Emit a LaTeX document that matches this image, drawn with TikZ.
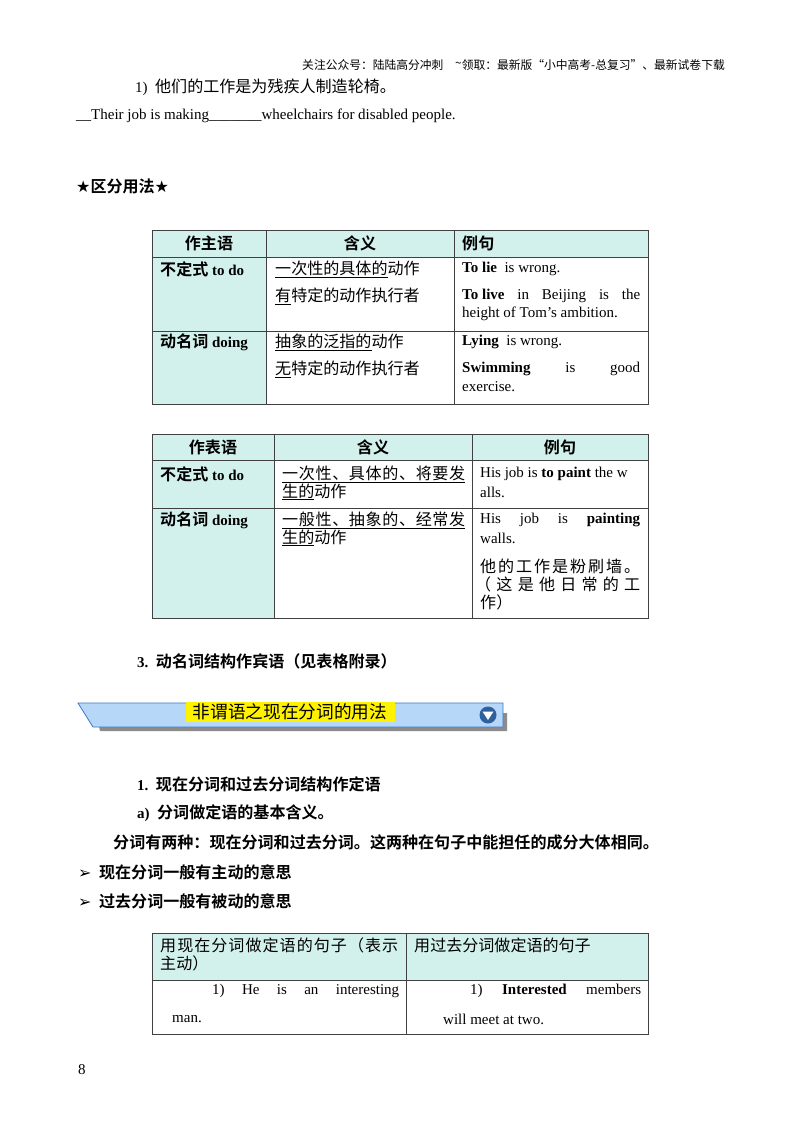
\documentclass[tikz,border=0pt]{standalone}
\usepackage{fontspec}
\setmainfont{Liberation Serif}
\newfontfamily\cjk[Scale=1.07,BoldFont={Noto Sans CJK SC Bold}]{Noto Sans CJK SC}
\newfontfamily\sym{DejaVu Sans}
\definecolor{teal1}{HTML}{D3F1EC}
\definecolor{bannerblue}{HTML}{B6D7F7}
\definecolor{bannerline}{HTML}{3A78C8}
\tikzset{
  txt/.style={anchor=west,inner sep=0pt,font=\fontsize{15}{18}\selectfont},
  grid/.style={draw=black!75,line width=0.8pt},
  head/.style={anchor=center,inner sep=0pt,font=\fontsize{15}{18}\selectfont\cjk\bfseries}
}
\newcommand{\ul}[1]{\underline{#1}}
\newcommand{\bigsym}[1]{{\sym\fontsize{16}{18}\selectfont #1}}
\begin{document}
\begin{tikzpicture}[x=1pt,y=-1pt]
\useasboundingbox[fill=white] (0,0) rectangle (800,1132);
% header
\node[anchor=east,inner sep=0pt,font=\fontsize{11}{13}\selectfont\cjk] (hdr) at (725,65) {关注公众号：陆陆高分冲刺\quad \raisebox{2pt}{\~{}}领取：最新版“小中高考-总复习”、最新试卷下载};
\node[txt] (l1) at (135,87) {1)\enspace{\cjk 他们的工作是为残疾人制造轮椅。}};
\node[txt] (l2) at (76,116) {\_\_Their job is making\_\_\_\_\_\_\_wheelchairs for disabled people.};
\node[txt] (l3) at (76,186) {\bigsym{★}{\cjk\bfseries 区分用法}\bigsym{★}};
% table 1
\fill[teal1] (152,230) rectangle (648,257);
\fill[teal1] (152,257) rectangle (266,404);
\draw[grid] (152,230) rectangle (648,404) (266,230)--(266,404) (454,230)--(454,404) (152,257)--(648,257) (152,331)--(648,331);
\node[head] (t1a) at (209,243) {作主语};
\node[head] (t1b) at (360,243) {含义};
\node[head,anchor=west] (t1c) at (462,243) {例句};
\node[txt] (t1r1) at (160,269) {{\cjk\bfseries 不定式} \textbf{to do}};
\node[txt] (t1r1b) at (275,269) {\cjk\ul{一次性的具体的}动作};
\node[txt] (t1r1c) at (275,296) {\cjk\ul{有}特定的动作执行者};
\node[txt] (t1r1d) at (462,269) {\textbf{To lie}\ \ is wrong.};
\node[txt] (t1r1e) at (462,296) {\makebox[178pt][s]{\textbf{To live}\hfill in\hfill Beijing\hfill is\hfill the}};
\node[txt] (t1r1f) at (462,314) {height of Tom’s ambition.};
\node[txt] (t1r2) at (160,342) {{\cjk\bfseries 动名词} \textbf{doing}};
\node[txt] (t1r2b) at (275,342) {\cjk\ul{抽象的泛指的}动作};
\node[txt] (t1r2c) at (275,369) {\cjk\ul{无}特定的动作执行者};
\node[txt] (t1r2d) at (462,342) {\textbf{Lying}\ \ is wrong.};
\node[txt] (t1r2e) at (462,369) {\makebox[178pt][s]{\textbf{Swimming}\hfill is\hfill good}};
\node[txt] (t1r2f) at (462,387) {exercise.};
% table 2
\fill[teal1] (152,434) rectangle (648,460);
\fill[teal1] (152,460) rectangle (274,618);
\draw[grid] (152,434) rectangle (648,618) (274,434)--(274,618) (472,434)--(472,618) (152,460)--(648,460) (152,508)--(648,508);
\node[head] (t2a) at (213,447) {作表语};
\node[head] (t2b) at (373,447) {含义};
\node[head] (t2c) at (560,447) {例句};
\node[txt] (t2r1) at (160,474) {{\cjk\bfseries 不定式} \textbf{to do}};
\node[txt] (t2r1b) at (282,474) {\cjk\ul{\makebox[183pt][s]{一\hfill 次\hfill 性\hfill 、\hfill 具\hfill 体\hfill 的\hfill 、\hfill 将\hfill 要\hfill 发}}};
\node[txt] (t2r1c) at (282,492) {\cjk\ul{生的}动作};
\node[txt] (t2r1d) at (480,474) {His job is \textbf{to paint} the w};
\node[txt] (t2r1e) at (480,492) {alls.};
\node[txt] (t2r2) at (160,520) {{\cjk\bfseries 动名词} \textbf{doing}};
\node[txt] (t2r2b) at (282,520) {\cjk\ul{\makebox[183pt][s]{一\hfill 般\hfill 性\hfill 、\hfill 抽\hfill 象\hfill 的\hfill 、\hfill 经\hfill 常\hfill 发}}};
\node[txt] (t2r2c) at (282,538) {\cjk\ul{生的}动作};
\node[txt] (t2r2d) at (480,520) {\makebox[160pt][s]{His\hfill job\hfill is\hfill \textbf{painting}}};
\node[txt] (t2r2e) at (480,538) {walls.};
\node[txt] (t2r2f) at (480,566) {\cjk\makebox[160pt][s]{他\hfill 的\hfill 工\hfill 作\hfill 是\hfill 粉\hfill 刷\hfill 墙\hfill 。}};
\node[txt] (t2r2g) at (475,584) {\cjk\makebox[165pt][s]{（\hfill 这\hfill 是\hfill 他\hfill 日\hfill 常\hfill 的\hfill 工}};
\node[txt] (t2r2h) at (480,602) {\cjk 作）};
% section 3
\node[txt] (s3) at (137,661) {\textbf{3.}\enspace{\cjk\bfseries 动名词结构作宾语（见表格附录）}};
% banner
\fill[black!45] (96,713) -- (507,713) -- (507,731) -- (100,731) -- cycle;
\filldraw[fill=bannerblue,draw=bannerline,line width=0.8pt] (78,703) -- (503,703) -- (503,727) -- (93,727) -- cycle;
\fill[yellow] (186,702) rectangle (395,722);
\node[anchor=center,inner sep=0pt,font=\fontsize{16.5}{20}\selectfont\cjk] (ban) at (290,712) {非谓语之现在分词的用法};
\fill[bannerline!80!black] (488,715) circle (8.5);
\fill[white] (482.5,711.5) -- (493.5,711.5) -- (488,720) -- cycle;
% section 1
\node[txt] (s1) at (137,784) {\textbf{1.}\enspace{\cjk\bfseries 现在分词和过去分词结构作定语}};
\node[txt] (s1a) at (137,813) {\textbf{a)}\enspace{\cjk\bfseries 分词做定语的基本含义。}};
\node[txt] (s1b) at (113,842) {\cjk\bfseries 分词有两种：现在分词和过去分词。这两种在句子中能担任的成分大体相同。};
\node[txt] (b1) at (78,872) {\bigsym{➢}\enspace{\cjk\bfseries 现在分词一般有主动的意思}};
\node[txt] (b2) at (78,901) {\bigsym{➢}\enspace{\cjk\bfseries 过去分词一般有被动的意思}};
% table 3
\fill[teal1] (152,933) rectangle (648,980);
\draw[grid] (152,933) rectangle (648,1034) (406,933)--(406,1034) (152,980)--(648,980);
\node[txt] (t3a) at (160,945) {\cjk\makebox[238pt][s]{用\hfill 现\hfill 在\hfill 分\hfill 词\hfill 做\hfill 定\hfill 语\hfill 的\hfill 句\hfill 子\hfill （\hfill 表\hfill 示}};
\node[txt] (t3b) at (160,963) {\cjk 主动）};
\node[txt] (t3c) at (414,945) {\cjk 用过去分词做定语的句子};
\node[txt] (t3d) at (212,991) {\makebox[187pt][s]{1)\hfill He\hfill is\hfill an\hfill interesting}};
\node[txt] (t3e) at (172,1019) {man.};
\node[txt] (t3f) at (470,991) {\makebox[171pt][s]{1)\hfill \textbf{Interested}\hfill members}};
\node[txt] (t3g) at (443,1019) {will meet at two.};
\node[txt] (pg) at (78,1070) {8};
\end{tikzpicture}
\end{document}
